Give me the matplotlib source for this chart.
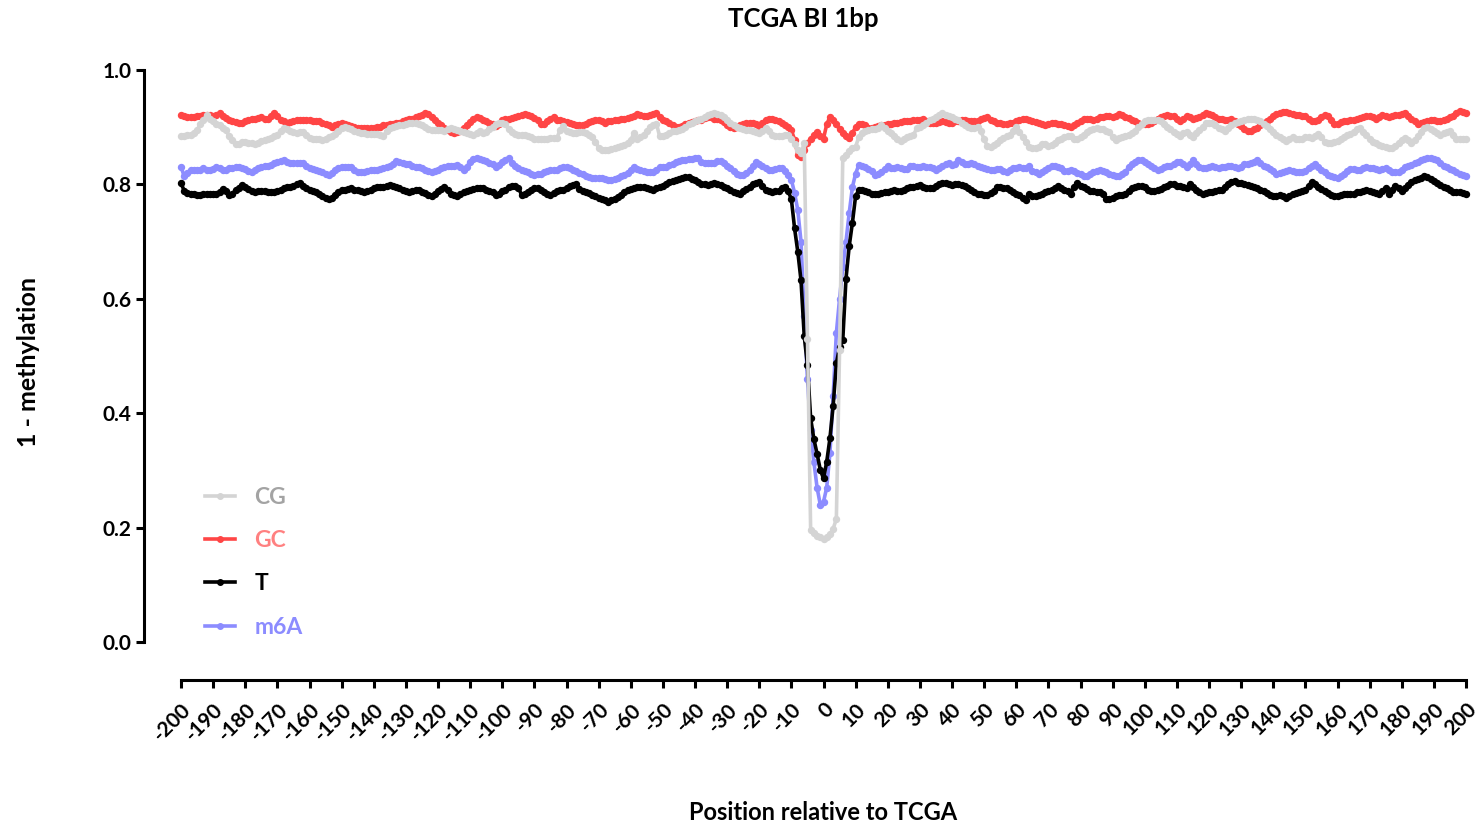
import numpy as np
import matplotlib
matplotlib.use("Agg")
import matplotlib.pyplot as plt

plt.rcParams['font.family'] = ['Lato', 'DejaVu Sans']
plt.rcParams['font.weight'] = 'bold'

# Position relative to the TCGA site, 1 bp resolution
positions = list(range(-200, 201))

# 1 - methylation for each context
cg = [
    .885, .885, .886, .886, .890, .895, .905, .913, .921, .915,
    .910, .906, .903, .899, .895, .884, .877, .870, .871, .874,
    .874, .873, .872, .871, .872, .876, .878, .880, .881, .884,
    .887, .893, .898, .896, .894, .892, .890, .891, .892, .886,
    .881, .880, .879, .879, .878, .879, .882, .885, .888, .893,
    .899, .901, .898, .896, .894, .892, .890, .889, .888, .888,
    .888, .888, .886, .885, .893, .898, .900, .902, .903, .904,
    .905, .907, .907, .907, .906, .903, .900, .897, .895, .895,
    .895, .895, .894, .896, .898, .897, .895, .893, .892, .889,
    .888, .887, .890, .894, .890, .892, .896, .900, .905, .907,
    .908, .905, .896, .891, .888, .886, .886, .886, .884, .882,
    .880, .879, .879, .879, .880, .881, .881, .881, .895, .902,
    .893, .891, .889, .890, .892, .891, .889, .886, .882, .875,
    .864, .861, .860, .861, .862, .864, .866, .867, .869, .873,
    .878, .889, .879, .882, .886, .893, .901, .904, .906, .884,
    .884, .887, .890, .893, .894, .895, .897, .901, .905, .908,
    .911, .913, .915, .918, .921, .923, .924, .923, .921, .917,
    .913, .908, .904, .901, .898, .897, .895, .895, .894, .892,
    .889, .893, .898, .893, .887, .885, .884, .884, .886, .887,
    .880, .870, .860, .855, .872, .530, .195, .190, .186, .183,
    .180, .183, .188, .198, .215, .510, .846, .852, .858, .863,
    .866, .883, .890, .893, .895, .896, .897, .899, .903, .899,
    .893, .889, .884, .879, .876, .879, .882, .884, .886, .898,
    .901, .904, .908, .913, .915, .918, .921, .924, .922, .920,
    .918, .915, .912, .908, .904, .900, .898, .899, .901, .893,
    .879, .867, .866, .869, .873, .877, .881, .884, .886, .893,
    .901, .892, .883, .875, .866, .864, .863, .866, .871, .870,
    .868, .869, .873, .877, .880, .883, .885, .885, .880, .879,
    .883, .887, .891, .895, .897, .898, .897, .896, .894, .892,
    .882, .878, .881, .883, .885, .887, .889, .894, .900, .905,
    .910, .912, .913, .913, .912, .910, .905, .900, .896, .892,
    .888, .885, .889, .892, .887, .882, .889, .895, .901, .907,
    .908, .907, .903, .899, .896, .894, .898, .904, .907, .909,
    .911, .913, .914, .915, .915, .913, .910, .906, .902, .897,
    .892, .887, .883, .879, .876, .879, .882, .880, .879, .880,
    .882, .882, .881, .884, .888, .882, .875, .873, .872, .874,
    .876, .879, .883, .886, .888, .892, .896, .898, .892, .886,
    .880, .875, .872, .869, .867, .865, .864, .863, .867, .872,
    .877, .881, .877, .872, .878, .884, .892, .899, .900, .896,
    .893, .889, .886, .889, .892, .894, .887, .879, .879, .879,
    .879,
]

gc = [
    .921, .919, .917, .918, .918, .919, .920, .921, .922, .921,
    .920, .922, .924, .920, .916, .913, .911, .909, .907, .908,
    .911, .913, .914, .915, .916, .917, .915, .914, .919, .925,
    .919, .913, .910, .907, .909, .911, .912, .913, .913, .913,
    .912, .910, .910, .910, .908, .905, .903, .901, .903, .906,
    .907, .905, .904, .902, .900, .899, .898, .898, .898, .898,
    .898, .900, .901, .903, .904, .905, .906, .907, .908, .910,
    .913, .914, .915, .917, .920, .922, .925, .923, .918, .913,
    .907, .903, .899, .895, .892, .890, .892, .894, .899, .904,
    .909, .914, .917, .916, .913, .910, .907, .905, .902, .906,
    .912, .914, .915, .916, .917, .919, .921, .923, .922, .920,
    .916, .912, .906, .906, .910, .915, .917, .913, .912, .911,
    .909, .907, .905, .904, .904, .904, .906, .909, .911, .913,
    .913, .910, .908, .910, .911, .912, .913, .914, .914, .916,
    .917, .920, .923, .922, .920, .920, .921, .923, .924, .917,
    .913, .910, .907, .903, .901, .901, .902, .905, .908, .909,
    .910, .912, .913, .916, .918, .917, .915, .914, .913, .909,
    .904, .901, .898, .901, .904, .906, .907, .908, .908, .905,
    .902, .907, .913, .914, .915, .913, .911, .908, .904, .900,
    .895, .878, .852, .848, .860, .872, .880, .886, .892, .884,
    .880, .905, .918, .912, .905, .896, .889, .884, .881, .890,
    .900, .906, .905, .903, .899, .899, .900, .902, .903, .904,
    .905, .906, .907, .908, .909, .910, .910, .911, .912, .913,
    .913, .914, .911, .907, .908, .908, .909, .910, .909, .907,
    .908, .910, .911, .913, .912, .911, .911, .910, .911, .914,
    .916, .917, .913, .910, .908, .907, .906, .906, .907, .908,
    .911, .913, .914, .914, .912, .910, .909, .907, .906, .904,
    .905, .907, .907, .906, .905, .903, .902, .901, .903, .908,
    .911, .914, .915, .914, .913, .915, .917, .918, .920, .919,
    .918, .920, .923, .921, .918, .916, .913, .910, .907, .905,
    .905, .906, .908, .911, .915, .917, .919, .921, .920, .919,
    .915, .911, .915, .920, .918, .915, .916, .918, .921, .925,
    .923, .921, .918, .915, .914, .913, .913, .914, .911, .906,
    .902, .897, .894, .894, .896, .899, .903, .907, .911, .915,
    .920, .923, .925, .926, .927, .925, .923, .922, .921, .920,
    .920, .915, .910, .911, .913, .917, .921, .919, .912, .905,
    .906, .909, .910, .911, .912, .913, .914, .916, .917, .919,
    .920, .918, .915, .918, .921, .920, .918, .919, .921, .922,
    .923, .925, .920, .915, .911, .906, .907, .909, .911, .913,
    .912, .910, .911, .913, .915, .918, .920, .925, .929, .927,
    .925,
]

t = [
    .802, .789, .785, .784, .783, .781, .782, .783, .784, .784,
    .784, .784, .787, .792, .788, .782, .784, .790, .794, .799,
    .795, .792, .789, .787, .788, .789, .788, .786, .786, .787,
    .789, .790, .793, .795, .796, .797, .800, .802, .797, .793,
    .790, .788, .786, .783, .780, .777, .774, .776, .782, .786,
    .790, .791, .792, .793, .791, .790, .788, .786, .788, .790,
    .793, .796, .796, .796, .797, .799, .798, .796, .793, .790,
    .788, .787, .788, .790, .790, .787, .785, .781, .779, .783,
    .788, .792, .795, .790, .784, .781, .779, .783, .787, .789,
    .790, .792, .793, .793, .793, .791, .789, .786, .782, .784,
    .788, .791, .795, .797, .797, .794, .782, .784, .787, .791,
    .793, .793, .790, .787, .784, .781, .785, .789, .790, .791,
    .794, .797, .799, .801, .792, .789, .787, .785, .782, .779,
    .777, .775, .772, .770, .772, .775, .778, .782, .786, .790,
    .792, .794, .795, .796, .795, .793, .792, .791, .793, .796,
    .798, .801, .804, .806, .808, .810, .812, .813, .813, .810,
    .807, .804, .801, .800, .799, .801, .802, .801, .799, .796,
    .793, .790, .787, .785, .784, .788, .792, .796, .800, .803,
    .804, .797, .791, .788, .787, .788, .789, .793, .795, .788,
    .774, .723, .682, .632, .535, .484, .391, .355, .329, .301,
    .286, .315, .356, .413, .487, .515, .528, .635, .692, .733,
    .780, .790, .791, .788, .786, .784, .784, .784, .785, .786,
    .787, .789, .790, .788, .788, .791, .793, .795, .796, .798,
    .799, .796, .793, .793, .793, .797, .801, .802, .803, .801,
    .799, .800, .801, .799, .797, .794, .790, .787, .784, .783,
    .781, .782, .785, .789, .795, .796, .794, .793, .790, .787,
    .784, .781, .777, .773, .784, .779, .780, .781, .784, .787,
    .788, .790, .794, .797, .794, .791, .788, .784, .795, .802,
    .798, .795, .792, .789, .788, .787, .786, .784, .774, .775,
    .776, .779, .781, .782, .784, .789, .793, .795, .797, .797,
    .795, .791, .788, .789, .790, .792, .795, .798, .801, .800,
    .798, .797, .795, .793, .801, .795, .790, .787, .784, .785,
    .786, .787, .789, .790, .791, .796, .801, .805, .806, .803,
    .802, .801, .799, .797, .796, .794, .791, .788, .785, .782,
    .779, .780, .781, .779, .777, .780, .784, .785, .786, .788,
    .790, .797, .805, .800, .796, .792, .788, .785, .782, .780,
    .779, .781, .783, .784, .783, .784, .786, .787, .789, .791,
    .789, .787, .785, .784, .788, .793, .784, .790, .797, .793,
    .789, .794, .799, .804, .808, .809, .811, .815, .813, .809,
    .806, .802, .799, .795, .793, .790, .787, .787, .787, .785,
    .783,
]

m6a = [
    .831, .814, .820, .825, .825, .825, .826, .828, .826, .825,
    .827, .830, .828, .825, .826, .828, .829, .831, .831, .829,
    .827, .824, .822, .826, .829, .831, .832, .833, .834, .837,
    .840, .841, .842, .839, .837, .837, .838, .838, .837, .832,
    .828, .827, .826, .824, .822, .819, .816, .820, .826, .829,
    .830, .831, .831, .830, .826, .822, .822, .822, .824, .825,
    .825, .826, .827, .828, .830, .832, .836, .841, .840, .838,
    .836, .835, .833, .831, .830, .829, .826, .823, .822, .824,
    .826, .829, .831, .832, .832, .833, .834, .830, .826, .831,
    .840, .845, .847, .845, .843, .841, .838, .835, .831, .834,
    .839, .842, .846, .838, .832, .828, .825, .823, .821, .818,
    .816, .818, .819, .822, .824, .825, .825, .826, .828, .830,
    .831, .828, .825, .823, .820, .818, .815, .813, .812, .811,
    .811, .811, .809, .807, .808, .810, .812, .814, .817, .820,
    .825, .830, .827, .825, .823, .822, .822, .822, .826, .830,
    .830, .831, .834, .836, .839, .841, .842, .843, .844, .844,
    .846, .846, .840, .838, .837, .837, .838, .841, .841, .837,
    .832, .828, .823, .819, .817, .816, .820, .825, .832, .839,
    .836, .832, .829, .826, .826, .827, .828, .828, .824, .816,
    .808, .785, .755, .700, .570, .460, .370, .315, .270, .240,
    .245, .270, .330, .430, .540, .600, .655, .700, .750, .795,
    .819, .834, .833, .831, .827, .823, .817, .818, .821, .827,
    .832, .829, .829, .830, .829, .827, .827, .833, .832, .830,
    .831, .832, .831, .830, .828, .826, .829, .832, .835, .837,
    .834, .836, .842, .840, .835, .835, .837, .835, .832, .830,
    .829, .827, .826, .825, .827, .827, .824, .822, .825, .828,
    .829, .830, .829, .828, .833, .823, .821, .819, .822, .826,
    .829, .832, .832, .831, .828, .824, .823, .825, .823, .820,
    .818, .815, .815, .819, .822, .824, .825, .823, .822, .819,
    .816, .815, .814, .818, .822, .830, .836, .840, .843, .842,
    .840, .836, .832, .828, .826, .827, .830, .832, .833, .836,
    .839, .840, .836, .831, .836, .842, .836, .831, .829, .828,
    .830, .832, .830, .828, .830, .831, .832, .832, .830, .828,
    .831, .835, .836, .837, .840, .843, .838, .833, .830, .827,
    .823, .819, .820, .821, .823, .825, .824, .822, .821, .821,
    .824, .828, .832, .836, .830, .826, .821, .817, .814, .813,
    .811, .815, .819, .823, .827, .827, .826, .825, .828, .830,
    .829, .828, .827, .826, .827, .828, .825, .821, .822, .822,
    .826, .831, .833, .834, .837, .840, .842, .844, .846, .847,
    .845, .843, .838, .833, .830, .827, .825, .822, .819, .817,
    .815,
]

series_names = ["CG", "GC", "T", "m6A"]
line_colors = ["#d4d4d4", "#ff4545", "#000000", "#8c8cff"]
text_colors = ["#a3a3a3", "#ff8080", "#000000", "#8c8cff"]
x_ticks = list(range(-200, 201, 10))
y_ticks = [0.0, 0.2, 0.4, 0.6, 0.8, 1.0]

W, H = 1478, 824
fig = plt.figure(figsize=(W / 100, H / 100), dpi=100)
ax = fig.add_axes([181 / W, (H - 642) / H, 1285 / W, 572 / H])

values = [cg, gc, t, m6a]
zorders = [6, 5, 4, 3]
handles = []
for name, vals, col, z in zip(series_names, values, line_colors, zorders):
    ln, = ax.plot(positions, vals, color=col, lw=2.6, marker='o', ms=4.3,
                  mec=col, mfc=col, zorder=z, clip_on=False, label=name)
    handles.append(ln)

ax.set_xlim(-200, 200)
ax.set_ylim(0, 1)

# Prism-style detached axes
for side in ("top", "right"):
    ax.spines[side].set_visible(False)
ax.spines["left"].set_position(("outward", 26.6))
ax.spines["bottom"].set_position(("outward", 27.4))
ax.spines["left"].set_linewidth(2.2)
ax.spines["bottom"].set_linewidth(2.2)
ax.spines["left"].set_bounds(0, 1)
ax.spines["bottom"].set_bounds(-200, 200)
ax.spines["left"].set_capstyle("projecting")
ax.spines["bottom"].set_capstyle("projecting")

ax.set_xticks(x_ticks)
ax.set_xticklabels([str(v) for v in x_ticks], rotation=45, ha="right",
                   va="top", rotation_mode="anchor")
ax.set_yticks(y_ticks)
ax.set_yticklabels([f"{v:.1f}" for v in y_ticks])
ax.tick_params(axis="both", which="major", length=6, width=2.2,
               labelsize=15, color="black")
ax.tick_params(axis="x", pad=8)
ax.tick_params(axis="y", pad=3)
for lab in ax.get_xticklabels() + ax.get_yticklabels():
    lab.set_fontweight("bold")

fig.suptitle("TCGA BI 1bp", x=803 / W, y=1 - 19 / H, va="center",
             fontsize=18.5, fontweight="bold")
fig.text(823 / W, 1 - 812 / H, "Position relative to TCGA", ha="center",
         va="center", fontsize=17, fontweight="bold")
fig.text(29 / W, 1 - 362 / H, "1 - methylation", ha="center", va="center",
         rotation=90, fontsize=18, fontweight="bold")

leg = ax.legend(handles=handles, loc="upper left",
                bbox_to_anchor=(205 / W, 1 - 487 / H),
                bbox_transform=fig.transFigure, frameon=False,
                fontsize=16.5, handlelength=1.3, handletextpad=0.85,
                labelspacing=0.97, borderpad=0, borderaxespad=0)
for txt, col in zip(leg.get_texts(), text_colors):
    txt.set_color(col)
    txt.set_fontweight("bold")
for lh in leg.get_lines():
    lh.set_markersize(4)
    lh.set_linewidth(2.6)

fig.savefig("out.png", dpi=100)
